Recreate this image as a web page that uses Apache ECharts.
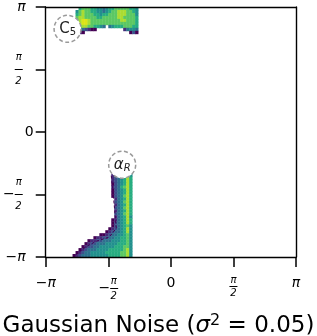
<!DOCTYPE html>
<html><head><meta charset="utf-8">
<script src="https://cdn.jsdelivr.net/npm/echarts@6/dist/echarts.min.js"></script>
<style>html,body{margin:0;padding:0;background:#fff}#c{width:317px;height:336px}</style>
</head><body><div id="c"></div>
<script>
const PI = Math.PI;
const nBins = 84;
const tickValues = [-PI, -PI / 2, 0, PI / 2, PI];
const tickLabels = ['−π', '−π/2', '0', 'π/2', 'π'];
const levelColors = ['', '#440154', '#472c7a', '#3b518b', '#2c718e', '#21908d', '#27ad81', '#5cc863', '#aadc32', '#dde318'];

// density levels (1..9, '.' = empty), top cluster: first row 0, first column 10
const topRowStart = 0, topColStart = 10;
const topRows = [
  ".67776655456677777665.",
  "578776655456778887765.",
  "678777665667778887775.",
  "788777766777778877776.",
  "789987777777777887776.",
  "789987777777777777776.",
  "6788776654.4566677766.",
  "5643211.........24554.",
  ".21...............131."
];
// bottom cluster: first row 56, first column 9
const bottomRowStart = 56, bottomColStart = 9;
const bottomRows = [
  ".............2345675",
  ".............2345686",
  ".............2345686",
  ".............1345686",
  ".............2346786",
  ".............1345686",
  ".............1345686",
  ".............1345786",
  "..............245686",
  "..............345786",
  "..............245686",
  "..............345786",
  "..............245686",
  "..............345786",
  "..............245685",
  ".............1245686",
  ".............1345686",
  ".............1345675",
  "............12345685",
  "...........123445685",
  ".........11234455675",
  ".......1223344556675",
  ".....122334445556675",
  "....1233444555566675",
  "...12334455555666775",
  "..123444555566666785",
  ".1234455555666667785",
  "12344455555566667785"
];
const contourPhi = [-1.496, -1.421, -1.371, -1.546, -1.870, -2.144, -2.394];
const contourPsi = [-1.097, -1.845, -2.419, -2.643, -2.743, -2.892, -3.092];
const regionNames = ['C5', 'αR'];
const regionPhi = [-2.593, -1.222];
const regionPsi = [2.593, -0.823];

const w = 2 * PI / nBins;
function buildCells(rows, r0, c0) {
  const out = [];
  rows.forEach((s, k) => {
    for (let j = 0; j < s.length; j++) {
      const ch = s[j];
      if (ch === '.') continue;
      const r = r0 + k, c = c0 + j;
      out.push([-PI + (c + 0.5) * w, PI - (r + 0.5) * w, parseInt(ch, 10)]);
    }
  });
  return out;
}
const cells = buildCells(topRows, topRowStart, topColStart).concat(buildCells(bottomRows, bottomRowStart, bottomColStart));

const FF = 'DejaVu Sans';
function labelOf(v) { return tickLabels[Math.round(v / (PI / 2)) + 2]; }
function xFmt(v) {
  const t = labelOf(v);
  if (t === '0') return '{n|0}';
  if (t === 'π') return '{pi|π}';
  if (t === '−π') return '{n|−}{pi|π}';
  if (t === 'π/2') return '{f|π}\n{bar|}\n{f|2}';
  return '{sp|}{f|π}\n{m|−}{bar|}\n{sp|}{f|2}';
}
function yFmt(v) {
  const t = labelOf(v);
  if (t === '0') return '{n|0}';
  if (t === 'π') return '{pi|π}{tp|}';
  if (t === '−π') return '{n|−}{pi|π}{tp|}';
  if (t === 'π/2') return '{f|π}{tf|}\n{bar|}{tf|}\n{f|2}{tf|}';
  return '{f|π}{tf|}\n{m|−}{bar|}{tf|}\n{f|2}{tf|}';
}
const xRich = {
  n: {fontSize: 14, fontFamily: FF, color: '#000', lineHeight: 16},
  pi: {fontSize: 14, fontFamily: FF, fontStyle: 'italic', color: '#000', lineHeight: 16},
  f: {fontSize: 10, fontFamily: FF, fontStyle: 'italic', color: '#000', lineHeight: 10, width: 8, align: 'center'},
  bar: {width: 8, height: 1, lineHeight: 3, backgroundColor: '#000', align: 'center'},
  m: {fontSize: 14, fontFamily: FF, color: '#000', lineHeight: 3, align: 'left'},
  sp: {width: 11, align: 'left'}
};
const yRich = {
  n: {fontSize: 14, fontFamily: FF, color: '#000', lineHeight: 16, align: 'right'},
  pi: {fontSize: 14, fontFamily: FF, fontStyle: 'italic', color: '#000', lineHeight: 16, align: 'right'},
  tp: {width: 8, align: 'right'},
  tf: {width: 11, align: 'right'},
  f: {fontSize: 10, fontFamily: FF, fontStyle: 'italic', color: '#000', lineHeight: 10, width: 8, align: 'right', padding: [0, 1, 0, 0]},
  bar: {width: 8, height: 1, lineHeight: 3, backgroundColor: '#000', align: 'right'},
  m: {fontSize: 14, fontFamily: FF, color: '#000', lineHeight: 3, align: 'right'}
};
function mkAxis(pos, labels, isX) {
  return {
    type: 'value', min: -PI, max: PI, interval: PI / 2, position: pos, z: 10,
    axisLine: {show: true, onZero: false, lineStyle: {color: '#000', width: 1.4}},
    axisTick: {show: labels, inside: false, length: 10, lineStyle: {color: '#000', width: 1.5}},
    splitLine: {show: false},
    axisLabel: {show: labels, margin: isX ? 18 : 12, formatter: isX ? xFmt : yFmt, rich: isX ? xRich : yRich, fontFamily: FF, color: '#000'}
  };
}

const chart = echarts.init(document.getElementById('c'), null, {renderer: 'canvas'});
chart.setOption({
  animation: false,
  backgroundColor: '#fff',
  grid: {left: 44, top: 5, width: 252, height: 252, show: false},
  title: {
    text: '{t|Gaussian Noise (}{s|σ}{p|2}{t| = 0.05)}',
    left: 'center', top: 308,
    textStyle: {
      fontWeight: 'normal',
      rich: {
        t: {fontSize: 23, fontFamily: FF, fontWeight: 'normal', color: '#000', lineHeight: 27},
        s: {fontSize: 23, fontFamily: FF, fontWeight: 'normal', fontStyle: 'italic', color: '#000', lineHeight: 27},
        p: {fontSize: 16, fontFamily: FF, fontWeight: 'normal', color: '#000', lineHeight: 27, verticalAlign: 'top'}
      }
    }
  },
  xAxis: [mkAxis('bottom', true, true), mkAxis('top', false, true)],
  yAxis: [mkAxis('left', true, false), mkAxis('right', false, false)],
  series: [
    {
      type: 'custom', xAxisIndex: 0, yAxisIndex: 0, clip: true, z: 2,
      data: cells,
      renderItem: function (params, api) {
        const p0 = api.coord([api.value(0) - w / 2, api.value(1) + w / 2]);
        const p1 = api.coord([api.value(0) + w / 2, api.value(1) - w / 2]);
        return {
          type: 'rect',
          shape: {x: p0[0], y: p0[1], width: p1[0] - p0[0] + 0.4, height: p1[1] - p0[1] + 0.4},
          style: {fill: levelColors[api.value(2)]}
        };
      }
    },
    {
      type: 'line', xAxisIndex: 0, yAxisIndex: 0, z: 3, symbol: 'none',
      data: contourPhi.map((p, i) => [p, contourPsi[i]]),
      lineStyle: {color: '#440154', width: 1, type: [3, 2]}
    },
    {
      type: 'scatter', xAxisIndex: 0, yAxisIndex: 0, z: 5, symbol: 'circle', symbolSize: 27,
      data: regionNames.map((n, i) => ({name: n, value: [regionPhi[i], regionPsi[i]]})),
      itemStyle: {color: '#fff', borderColor: '#9a9a9a', borderWidth: 1.5, borderType: [4, 2.5], opacity: 1},
      label: {
        show: true, position: 'inside',
        formatter: function (p) { return p.name === 'C5' ? '{b|C}{sub|5}' : '{g|α}{subi|R}'; },
        rich: {
          b: {fontSize: 15, fontFamily: FF, color: '#222', lineHeight: 18},
          g: {fontSize: 15, fontFamily: FF, fontStyle: 'italic', color: '#222', lineHeight: 18},
          sub: {fontSize: 10, fontFamily: FF, color: '#222', lineHeight: 18, verticalAlign: 'bottom'},
          subi: {fontSize: 10, fontFamily: FF, fontStyle: 'italic', color: '#222', lineHeight: 18, verticalAlign: 'bottom'}
        }
      }
    }
  ]
});
</script></body></html>
